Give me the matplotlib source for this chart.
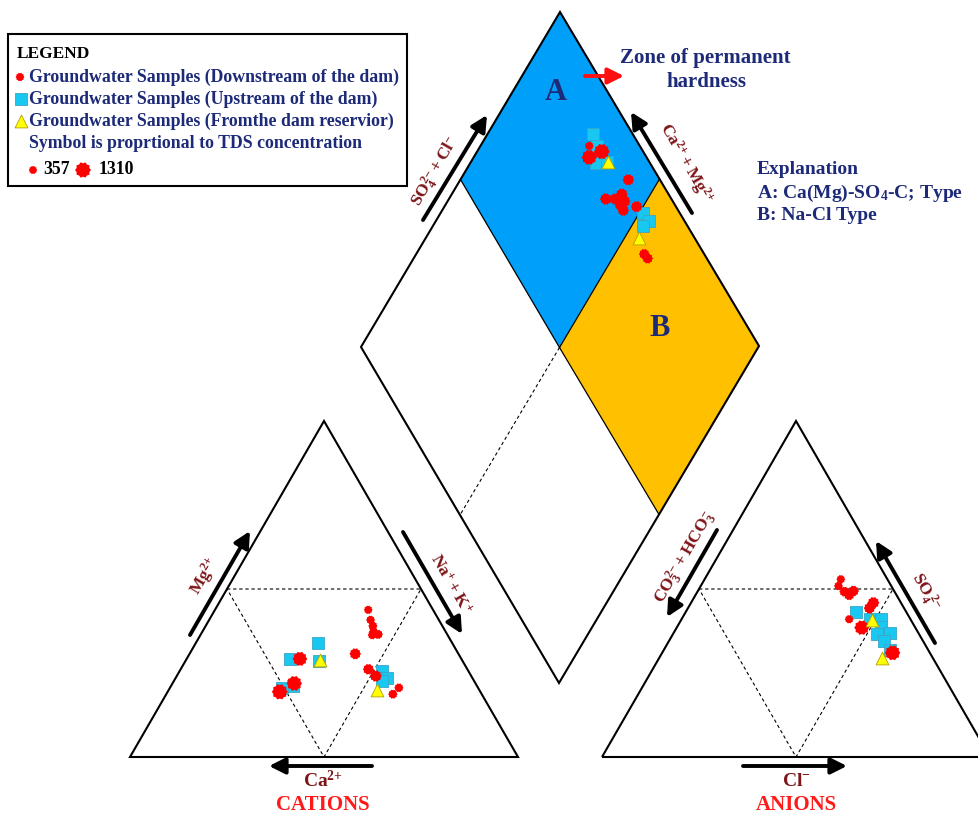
import numpy as np
import matplotlib

matplotlib.use("Agg")
import matplotlib.pyplot as plt
from matplotlib.path import Path
from matplotlib.patches import Polygon, Rectangle

plt.rcParams["font.family"] = ["Liberation Serif", "DejaVu Serif"]
plt.rcParams["font.weight"] = "bold"
plt.rcParams["mathtext.fontset"] = "custom"
plt.rcParams["mathtext.rm"] = "Liberation Serif:bold"
plt.rcParams["mathtext.it"] = "Liberation Serif:bold"
plt.rcParams["mathtext.bf"] = "Liberation Serif:bold"

# cation triangle, % meq/L  (Ca = 100 - Mg - Na+K)
cat_down_mg = [43.8, 40.8, 39.0, 37.3, 36.3, 36.5, 30.7, 29.2, 21.9, 19.4, 26.1, 24.1, 20.6, 18.7]
cat_down_na = [39.5, 41.6, 43.1, 44.1, 44.3, 45.7, 42.7, 29.2, 31.4, 28.9, 48.4, 51.3, 59.0, 58.4]
cat_down_tds = [400, 420, 450, 430, 440, 500, 750, 1150, 1250, 1310, 700, 800, 450, 480]
cat_up_mg = [34.0, 29.2, 28.6, 21.2, 20.4, 25.6, 23.6, 22.6]
cat_up_na = [31.4, 26.6, 34.4, 31.5, 29.1, 52.1, 54.4, 53.6]
cat_res_mg = [28.9, 19.9]
cat_res_na = [34.5, 53.8]

# anion triangle, % meq/L  (HCO3+CO3 = 100 - SO4 - Cl)
an_down_so4 = [52.9, 50.9, 49.2, 48.2, 49.4, 45.9, 44.3, 41.0, 38.5, 31.0]
an_down_cl = [35.1, 35.5, 37.9, 39.6, 40.1, 47.0, 46.8, 43.2, 47.7, 59.4]
an_down_tds = [400, 420, 600, 650, 700, 800, 750, 400, 1200, 1250]
an_up_so4 = [43.1, 41.1, 41.0, 38.6, 36.5, 36.8, 34.6, 31.8]
an_up_cl = [43.9, 48.5, 51.3, 52.6, 52.6, 55.8, 55.4, 58.3]
an_res_so4 = [40.8, 29.4]
an_res_cl = [49.1, 57.4]

# diamond: Na+K (% of cations) vs SO4+Cl (% of anions)
dia_down_na = [27.4, 29.1, 31.4, 42.3, 39.5, 41.8, 42.8, 44.5, 44.0, 45.6, 48.4, 57.4, 58.9]
dia_down_scl = [87.0, 85.3, 89.3, 91.8, 83.3, 85.6, 88.0, 87.6, 86.0, 86.0, 89.9, 84.8, 85.0]
dia_down_tds = [400, 1250, 1300, 750, 800, 750, 800, 850, 700, 750, 750, 650, 650]
dia_up_na = [26.6, 29.3, 31.6, 34.2, 50.9, 53.7, 52.9]
dia_up_scl = [89.8, 88.8, 86.2, 89.0, 90.4, 91.0, 88.5]
dia_res_na = [34.4, 53.8]
dia_res_scl = [89.3, 85.9]

tds_legend = [357, 1310]

NAVY = "#1c2a78"
MAROON = "#7d1518"
RED = "#ff0000"
CYAN = "#18c8f0"
YELLOW = "#ffff00"

# corner positions (figure pixels)
CAT = np.array([[130, 757], [518, 757], [324, 421]])   # Ca, Na+K, Mg
AN = np.array([[602, 757], [990, 757], [796, 421]])    # HCO3, Cl, SO4
D_BOT, D_RIGHT, D_TOP, D_LEFT = (np.array(p, float) for p in
                                 [(559, 683), (759, 346), (560, 12), (361, 347)])


def tern(corners, a, b, c):
    w = np.column_stack([a, b, c]) / 100.0
    return w @ corners


def cation_xy(mg, na):
    mg, na = np.asarray(mg), np.asarray(na)
    return tern(CAT, 100 - mg - na, na, mg)


def anion_xy(so4, cl):
    so4, cl = np.asarray(so4), np.asarray(cl)
    return tern(AN, 100 - so4 - cl, cl, so4)


def diamond_xy(na, scl):
    na, scl = np.asarray(na)[:, None], np.asarray(scl)[:, None]
    return D_BOT + scl / 100 * (D_RIGHT - D_BOT) + (1 - na / 100) * (D_LEFT - D_BOT)


def tds_size(tds):
    d_px = 8.5 + 7.5 * (np.asarray(tds) - 357) / (1310 - 357)
    return (d_px * 0.72) ** 2


# bumpy round marker for the downstream samples
ang = np.linspace(0, 2 * np.pi, 21)[:-1]
rad = np.where(np.arange(20) % 2 == 0, 1.0, 0.84)
gear_v = np.column_stack([rad * np.cos(ang), rad * np.sin(ang)])
GEAR = Path(np.vstack([gear_v, gear_v[:1]]), closed=True)

SQ_S = 78
TRI_S = 85

fig = plt.figure(figsize=(9.79, 8.15), dpi=100)
ax = fig.add_axes([0, 0, 1, 1])
ax.set_xlim(0, 979)
ax.set_ylim(815, 0)
ax.axis("off")

# diamond fills
mid = lambda p, q: (p + q) / 2
centre = mid(D_TOP, D_BOT)
ul, ur = mid(D_LEFT, D_TOP), mid(D_TOP, D_RIGHT)
ll, lr = mid(D_LEFT, D_BOT), mid(D_BOT, D_RIGHT)
ax.add_patch(Polygon([D_TOP, ur, centre, ul], closed=True, fc="#00a0fa", ec="none", zorder=1))
ax.add_patch(Polygon([ur, D_RIGHT, lr, centre], closed=True, fc="#ffc000", ec="none", zorder=1))
ax.add_patch(Polygon([D_TOP, D_RIGHT, D_BOT, D_LEFT], closed=True, fc="none", ec="black", lw=1.5, zorder=2))
for p in (ul, ur, lr):
    ax.plot([centre[0], p[0]], [centre[1], p[1]], color="black", lw=0.9, zorder=2)
ax.plot([centre[0], ll[0]], [centre[1], ll[1]], color="black", lw=0.8, ls=(0, (3, 2.5)), zorder=2)

# triangles with dashed inner subdivision
for tri in (CAT, AN):
    ax.add_patch(Polygon(tri, closed=True, fc="none", ec="black", lw=1.5, zorder=2))
    m = [mid(tri[0], tri[2]), mid(tri[1], tri[2]), mid(tri[0], tri[1])]
    ax.add_patch(Polygon(m, closed=True, fc="none", ec="black", lw=0.8, ls=(0, (3, 2.5)), zorder=2))


def draw_group(xy_down, tds_down, xy_up, xy_res):
    ax.scatter(xy_up[:, 0], xy_up[:, 1], marker="s", s=SQ_S, c=CYAN, edgecolors="#3aa6c4", linewidths=0.6, zorder=3)
    ax.scatter(xy_down[:, 0], xy_down[:, 1], marker=GEAR, s=tds_size(tds_down), c=RED, edgecolors="none", zorder=4)
    ax.scatter(xy_res[:, 0], xy_res[:, 1], marker="^", s=TRI_S, c=YELLOW, edgecolors="#b4a000", linewidths=0.6, zorder=5)


draw_group(cation_xy(cat_down_mg, cat_down_na), cat_down_tds,
           cation_xy(cat_up_mg, cat_up_na), cation_xy(cat_res_mg, cat_res_na))
draw_group(anion_xy(an_down_so4, an_down_cl), an_down_tds,
           anion_xy(an_up_so4, an_up_cl), anion_xy(an_res_so4, an_res_cl))
draw_group(diamond_xy(dia_down_na, dia_down_scl), dia_down_tds,
           diamond_xy(dia_up_na, dia_up_scl), diamond_xy(dia_res_na, dia_res_scl))


def arrow(x0, y0, x1, y1, color="black"):
    ax.annotate("", xy=(x1, y1), xytext=(x0, y0),
                arrowprops=dict(arrowstyle="-|>", lw=2.8, color=color, mutation_scale=24,
                                shrinkA=0, shrinkB=0), zorder=6)


# axis arrows and labels (braced signs keep the charges tight)
arrow(423, 220, 487, 115)
ax.text(436, 172, r"$\mathrm{SO_4^{2{-}} + Cl^{{-}}}$", color=MAROON, fontsize=12.5, rotation=60, ha="center", va="center")
arrow(692, 213, 631, 112)
ax.text(686, 164, r"$\mathrm{Ca^{2{+}} + Mg^{2{+}}}$", color=MAROON, fontsize=12.5, rotation=-60, ha="center", va="center")

arrow(190, 635, 250, 531)
ax.text(204, 576, r"$\mathrm{Mg^{2{+}}}$", color=MAROON, fontsize=12.5, rotation=60, ha="center", va="center")
arrow(403, 532, 462, 634)
ax.text(450, 585, r"$\mathrm{Na^{{+}} + K^{{+}}}$", color=MAROON, fontsize=12.5, rotation=-60, ha="center", va="center")
arrow(372, 766, 269, 766)
ax.text(323, 781, r"$\mathrm{Ca^{2{+}}}$", color=MAROON, fontsize=14, ha="center", va="center")
ax.text(323, 795, "CATIONS", color="#ff1a1a", fontsize=15, ha="center", va="top")

arrow(717, 530, 667, 617)
ax.text(685, 558, r"$\mathrm{CO_3^{2{-}} + HCO_3^{{-}}}$", color=MAROON, fontsize=12.5, rotation=60, ha="center", va="center")
arrow(935, 643, 876, 541)
ax.text(925, 592, r"$\mathrm{SO_4^{\ 2{-}}}$", color=MAROON, fontsize=12.5, rotation=-60, ha="center", va="center")
arrow(743, 766, 847, 766)
ax.text(796, 781, r"$\mathrm{Cl^{{-}}}$", color=MAROON, fontsize=14, ha="center", va="center")
ax.text(796, 795, "ANIONS", color="#ff1a1a", fontsize=15, ha="center", va="top")

# zone labels and explanation
ax.text(556, 92, "A", color=NAVY, fontsize=22, ha="center", va="center")
ax.text(660, 328, "B", color=NAVY, fontsize=22, ha="center", va="center")
arrow(585, 76, 624, 76, color="#ff1010")
ax.text(705, 58, "Zone of permanent", color=NAVY, fontsize=15, ha="center", va="center")
ax.text(706, 82, "hardness", color=NAVY, fontsize=15, ha="center", va="center")
ax.text(757, 170, "Explanation", color=NAVY, fontsize=14, ha="left", va="center")
ax.text(757, 193, "A: Ca(Mg)-SO$_4$-C; Type", color=NAVY, fontsize=14, ha="left", va="center")
ax.text(757, 215, "B: Na-Cl Type", color=NAVY, fontsize=14, ha="left", va="center")

# legend box
ax.add_patch(Rectangle((8, 34), 399, 152, fc="white", ec="black", lw=1.5, zorder=7))
ax.text(17, 54, "LEGEND", color="black", fontsize=12.5, ha="left", va="center", zorder=8)
labels = ["Groundwater Samples (Downstream of the dam)",
          "Groundwater Samples (Upstream of the dam)",
          "Groundwater Samples (Fromthe dam reservior)",
          "Symbol is proprtional to TDS concentration"]
for lab, y in zip(labels, [77, 99, 121, 143]):
    ax.text(29, y, lab, color=NAVY, fontsize=12.8, ha="left", va="center", zorder=8)
ax.scatter([20], [77], marker=GEAR, s=tds_size(400), c=RED, edgecolors="none", zorder=8)
ax.scatter([21], [99], marker="s", s=SQ_S, c=CYAN, edgecolors="#3aa6c4", linewidths=0.6, zorder=8)
ax.scatter([21], [121], marker="^", s=TRI_S, c=YELLOW, edgecolors="#b4a000", linewidths=0.6, zorder=8)
ax.scatter([33, 83], [170, 170], marker=GEAR, s=tds_size(tds_legend), c=RED, edgecolors="none", zorder=8)
ax.text(43, 170, str(tds_legend[0]), color="black", fontsize=12.8, ha="left", va="center", zorder=8)
ax.text(99, 170, str(tds_legend[1]), color="black", fontsize=12.8, ha="left", va="center", zorder=8)

fig.savefig("out.png", dpi=100)
plt.close(fig)
